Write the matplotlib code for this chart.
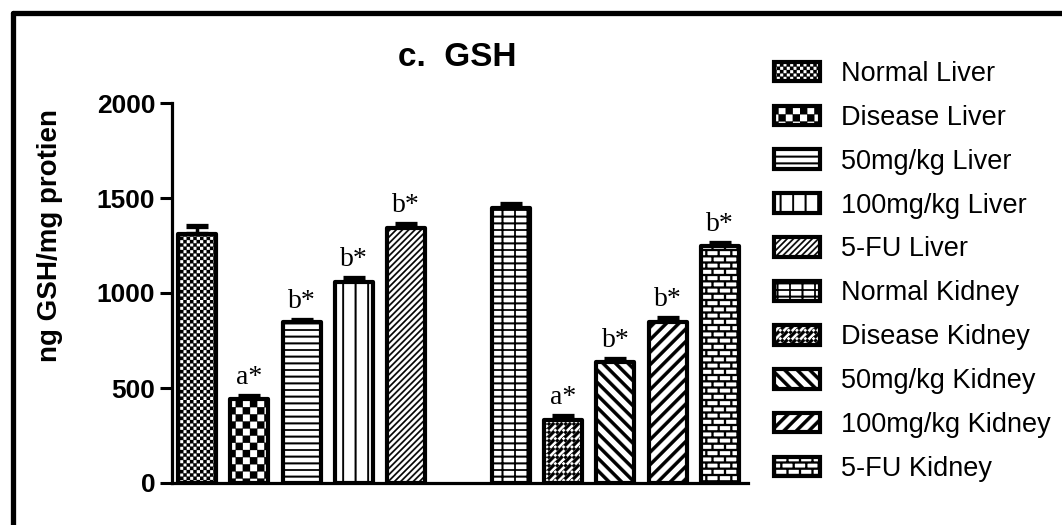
import warnings
import numpy as np
import matplotlib
matplotlib.use("Agg")
import matplotlib.pyplot as plt
import matplotlib.hatch as mhatch
from matplotlib.path import Path
from matplotlib.lines import Line2D

warnings.filterwarnings("ignore")

# ---------------------------------------------------------------- data
groups = ["Normal Liver", "Disease Liver", "50mg/kg Liver", "100mg/kg Liver",
          "5-FU Liver", "Normal Kidney", "Disease Kidney", "50mg/kg Kidney",
          "100mg/kg Kidney", "5-FU Kidney"]
gsh_mean = [1310, 440, 845, 1058, 1342, 1447, 333, 635, 850, 1245]
gsh_sem = [45, 18, 15, 22, 22, 22, 20, 18, 18, 20]
sig_labels = ["", "a*", "b*", "b*", "b*", "", "a*", "b*", "b*", "b*"]
slots = [0, 1, 2, 3, 4, 6, 7, 8, 9, 10]
yticks = [0, 500, 1000, 1500, 2000]


# ---------------------------------------------------------------- fill patterns
def rect(x0, y0, x1, y1):
    return [(x0, y0), (x1, y0), (x1, y1), (x0, y1)]


def checker(n):
    s = 1.0 / n
    return [rect(i * s, j * s, (i + 1) * s, (j + 1) * s)
            for i in range(n) for j in range(n) if (i + j) % 2 == 0]


def hlines(n, t, phase=0.5):
    return [rect(-0.05, (i + phase) / n - t / 2, 1.05, (i + phase) / n + t / 2)
            for i in range(-1, n + 1)]


def vlines(n, t, phase=0.5):
    return [rect((i + phase) / n - t / 2, -0.05, (i + phase) / n + t / 2, 1.05)
            for i in range(-1, n + 1)]


def diagonals(n, h, sign):
    # bands y = sign*x + c with horizontal width h
    polys = []
    cs = np.arange(-n - 2, 2 * n + 3) / n
    for c in cs:
        xa, xb = -0.2, 1.2
        ya, yb = sign * xa + c, sign * xb + c
        if max(ya, yb) < -0.1 or min(ya, yb) > 1.1:
            continue
        polys.append([(xa, ya), (xb, yb), (xb + h, yb), (xa + h, ya)])
    return polys


def bricks(rows, per_row, t):
    polys = hlines(rows, t, phase=0.0)
    rh = 1.0 / rows
    bw = 1.0 / per_row
    for r in range(rows):
        off = 0.5 * bw if r % 2 else 0.0
        for k in range(-1, per_row + 1):
            x = k * bw + off
            polys.append(rect(x - t * 0.5, r * rh, x + t * 0.5, (r + 1) * rh))
    return polys


def diag_bricks(n, q, t):
    polys = diagonals(n, t * 1.41, 1)
    p = 1.0 / q
    d = 1.0 / n
    a = np.array([1.0, 1.0]) / np.sqrt(2) * (t * 0.5)
    for k in range(-n - 2, 2 * n + 2):
        c0 = k * d
        c1 = c0 + d
        off = 0.5 * p if k % 2 else 0.0
        for m in range(-2 * q, 3 * q):
            e = m * p + off
            x1 = (e - c0) / 2
            p1 = np.array([x1, x1 + c0])
            x2 = (e - c1) / 2
            p2 = np.array([x2, x2 + c1])
            xs = [p1[0], p2[0]]
            ys = [p1[1], p2[1]]
            if max(xs) < -0.05 or min(xs) > 1.05 or max(ys) < -0.05 or min(ys) > 1.05:
                continue
            polys.append([tuple(p1 - a), tuple(p1 + a), tuple(p2 + a), tuple(p2 - a)])
    return polys


PATTERNS = {
    "C": checker(30),                       # fine checkerboard
    "K": checker(14),                       # coarse checkerboard
    "H": hlines(15, 0.017),                 # horizontal rules
    "V": vlines(8, 0.017, phase=0.45),      # vertical rules
    "F": diagonals(16, 0.02, 1),            # fine forward diagonals
    "G": hlines(15, 0.017) + vlines(8, 0.017, phase=0.2),   # grid
    "W": diag_bricks(12, 6, 0.03),          # diagonal weave
    "B": diagonals(8, 0.045, -1),           # wide back diagonals
    "N": diagonals(8, 0.045, 1),            # wide forward diagonals
    "R": bricks(16, 8, 0.02),               # brick wall
}


class PolygonHatch(mhatch.HatchPatternBase):
    def __init__(self, hatch, density):
        self.polys = []
        for ch, polys in PATTERNS.items():
            if ch in hatch:
                self.polys.extend(polys)
        self.num_vertices = sum(len(p) + 1 for p in self.polys)

    def set_vertices_and_codes(self, vertices, codes):
        i = 0
        for poly in self.polys:
            n = len(poly)
            vertices[i:i + n] = poly
            vertices[i + n] = poly[0]
            codes[i] = Path.MOVETO
            codes[i + 1:i + n] = Path.LINETO
            codes[i + n] = Path.CLOSEPOLY
            i += n + 1


mhatch._hatch_types.append(PolygonHatch)

hatches = ["C", "K", "H", "V", "F", "G", "W", "B", "N", "R"]

# ---------------------------------------------------------------- figure
plt.rcParams["font.family"] = ["Liberation Sans", "DejaVu Sans"]
plt.rcParams["hatch.linewidth"] = 0.2
plt.rcParams["hatch.color"] = "black"

W, H = 1062, 525
fig = plt.figure(figsize=(W / 100, H / 100), dpi=100)
ax = fig.add_axes([172 / W, (H - 483) / H, (748 - 172) / W, (483 - 103) / H])

bar_w = 0.727
ax.errorbar(slots, gsh_mean, yerr=[np.zeros(len(gsh_sem)), gsh_sem],
            fmt="none", ecolor="black", elinewidth=2.5, capsize=8,
            capthick=3.8, zorder=1)
bars = ax.bar(slots, gsh_mean, width=bar_w, color="white", edgecolor="black",
              linewidth=3, zorder=2, label=groups)
for b, h in zip(bars, hatches):
    b.set_hatch(h)
    b.set_joinstyle("round")

for x, m, e, lab in zip(slots, gsh_mean, gsh_sem, sig_labels):
    if lab:
        ax.text(x, m + e + 62, lab, ha="center", va="baseline",
                family=["Liberation Serif", "DejaVu Serif"], fontsize=20)

ax.set_xlim(-0.478, 10.535)
ax.set_ylim(0, 2000)
ax.set_yticks(yticks)
ax.set_xticks([])
for s in ["top", "right"]:
    ax.spines[s].set_visible(False)
for s in ["left", "bottom"]:
    ax.spines[s].set_linewidth(2.3)
ax.tick_params(axis="y", length=8.6, width=2.2, pad=3.5, labelsize=19)
for t in ax.get_yticklabels():
    t.set_fontweight("bold")
ax.set_ylabel("ng GSH/mg protien", fontsize=20, fontweight="bold")
ax.yaxis.set_label_coords((63 - 172) / 576, (483 - 236) / 380)

fig.text(457 / W, 1 - 58 / H, "c.  GSH", ha="center", va="center",
         fontsize=24, fontweight="bold")

fig.legend(handles=list(bars), labels=groups, loc="upper left",
           bbox_to_anchor=(774 / W, 1 - 61 / H), frameon=False, fontsize=19.5,
           borderpad=0, borderaxespad=0, handlelength=1.7, handleheight=0.74,
           handletextpad=0.78, labelspacing=0.66)

# outer frame
fig.add_artist(Line2D([12.5 / W, 12.5 / W], [1 - 12.5 / H, -0.01], lw=3.8,
                      color="black", solid_capstyle="round",
                      transform=fig.transFigure))
fig.add_artist(Line2D([12.5 / W, 1.01], [1 - 12.5 / H, 1 - 12.5 / H], lw=3.8,
                      color="black", solid_capstyle="round",
                      transform=fig.transFigure))

fig.savefig("out.png", dpi=100)
